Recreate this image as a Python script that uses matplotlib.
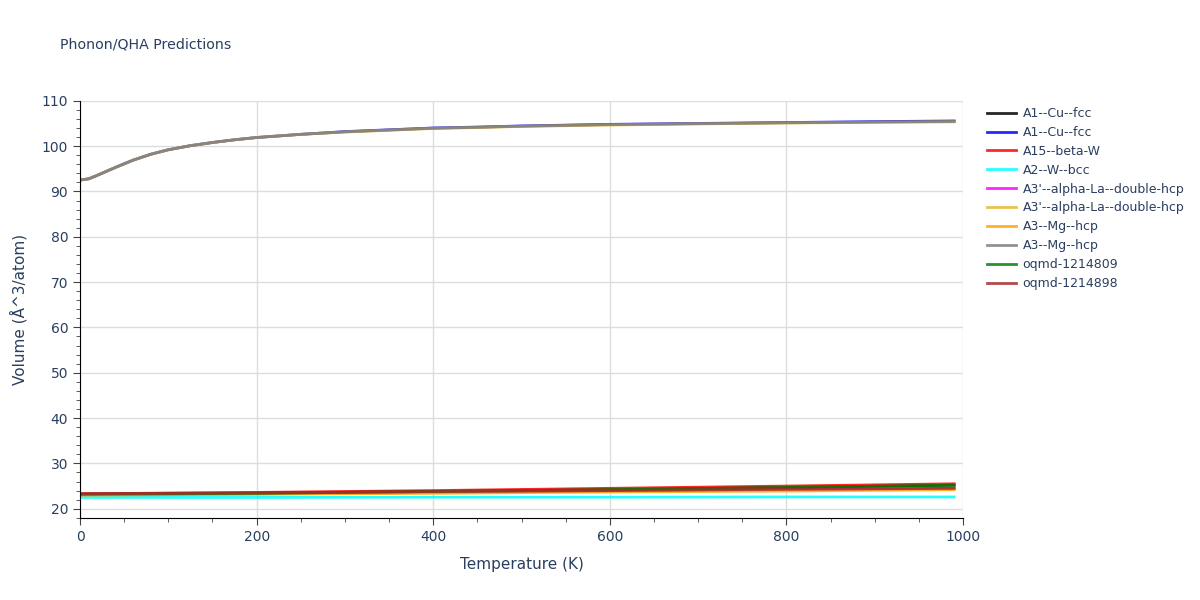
import matplotlib
matplotlib.use("Agg")
from matplotlib import pyplot as plt
from matplotlib.ticker import MultipleLocator
import numpy as np

# temperatures (K)
temps = [0, 10, 20, 40, 60, 80, 100, 125, 150, 175, 200, 250, 300, 350, 400, 450, 500,
         600, 700, 800, 900, 990]

# large-volume phases
vol_blue = [92.5, 92.8, 93.6, 95.3, 96.9, 98.2, 99.2, 100.1, 100.8, 101.4, 101.9, 102.6,
            103.2, 103.6, 104.0, 104.2, 104.45, 104.8, 105.0, 105.2, 105.4, 105.55]
vol_gold = [92.5, 92.8, 93.6, 95.3, 96.9, 98.2, 99.2, 100.1, 100.8, 101.4, 101.9, 102.6,
            103.1, 103.5, 103.9, 104.1, 104.35, 104.65, 104.9, 105.1, 105.25, 105.35]
vol_gray = [92.5, 92.8, 93.6, 95.3, 96.9, 98.2, 99.2, 100.1, 100.8, 101.4, 101.9, 102.6,
            103.15, 103.55, 103.95, 104.15, 104.4, 104.75, 104.95, 105.15, 105.3, 105.45]

# small-volume phases
small_T = [0, 200, 400, 600, 800, 990]
vol_black = [23.2, 23.4, 23.8, 24.2, 24.7, 25.2]
vol_red = [23.3, 23.6, 24.0, 24.5, 25.0, 25.5]
vol_cyan = [22.5, 22.5, 22.55, 22.55, 22.6, 22.6]
vol_magenta = [23.1, 23.3, 23.6, 23.9, 24.2, 24.5]
vol_orange = [23.0, 23.2, 23.4, 23.7, 23.9, 24.2]
vol_green = [23.2, 23.4, 23.8, 24.2, 24.7, 25.2]
vol_brown = [23.3, 23.5, 23.8, 24.0, 24.3, 24.5]

series = [
    ("A1--Cu--fcc", small_T, vol_black, "black"),
    ("A1--Cu--fcc", temps, vol_blue, "#0000ff"),
    ("A15--beta-W", small_T, vol_red, "red"),
    ("A2--W--bcc", small_T, vol_cyan, "cyan"),
    ("A3'--alpha-La--double-hcp", small_T, vol_magenta, "magenta"),
    ("A3'--alpha-La--double-hcp", temps, vol_gold, "#e6b82e"),
    ("A3--Mg--hcp", small_T, vol_orange, "orange"),
    ("A3--Mg--hcp", temps, vol_gray, "gray"),
    ("oqmd-1214809", small_T, vol_green, "green"),
    ("oqmd-1214898", small_T, vol_brown, "brown"),
]

fig = plt.figure(figsize=(12, 6), dpi=100)
ax = fig.add_axes([0.0667, 0.137, 0.7358, 0.695])

for name, t, v, c in series:
    ax.plot(t, v, color=c, lw=2, label=name, alpha=0.85)

ax.set_xlim(0, 1000)
ax.set_ylim(18, 110)
ax.xaxis.set_major_locator(MultipleLocator(200))
ax.xaxis.set_minor_locator(MultipleLocator(50))
ax.yaxis.set_major_locator(MultipleLocator(10))
ax.yaxis.set_minor_locator(MultipleLocator(2))
ax.grid(True, which="major", color="#dddddd", lw=1)
ax.set_axisbelow(True)
for s in ["top", "right"]:
    ax.spines[s].set_visible(False)
ax.tick_params(which="major", length=5, color="#444444", labelcolor="#2a3f5f", labelsize=10)
ax.tick_params(which="minor", length=3, color="#444444")

ax.set_xlabel("Temperature (K)", color="#2a3f5f", fontsize=11, labelpad=10)
ax.set_ylabel("Volume (Å^3/atom)", color="#2a3f5f", fontsize=11, labelpad=10)
fig.text(0.05, 0.925, "Phonon/QHA Predictions", color="#2a3f5f", fontsize=10.2, va="center")

leg = ax.legend(loc="upper left", bbox_to_anchor=(1.015, 1.012), frameon=False,
                fontsize=9, labelcolor="#2a3f5f", handlelength=2.3, handletextpad=0.5,
                labelspacing=0.47)

plt.savefig("out.png")
